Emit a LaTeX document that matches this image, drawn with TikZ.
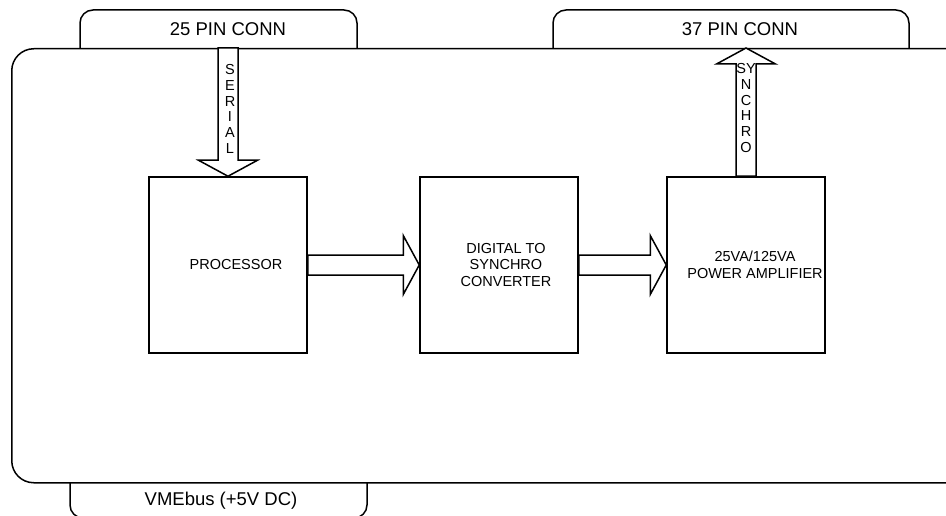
\documentclass[tikz,border=0pt]{standalone}
\usepackage{fontspec}
\setmainfont{Liberation Sans}
\usetikzlibrary{calc,positioning}

\tikzset{
	blockarrow/.style={fill=white, to path={
		($(\tikztotarget)!16pt!(\tikztostart)$) coordinate (bh)
		($(\tikztostart)!10pt!90:(\tikztotarget)$) -- ($(bh)!10pt!90:(\tikztotarget)$)
		-- ($(bh)!29.5pt!90:(\tikztotarget)$) -- (\tikztotarget)
		-- ($(bh)!29.5pt!-90:(\tikztotarget)$) -- ($(bh)!10pt!-90:(\tikztotarget)$)
		-- ($(\tikztostart)!10pt!-90:(\tikztotarget)$) -- cycle}},
}

\begin{document}
\begin{tikzpicture}[x=1pt, y=-1pt, line width=1.5pt,
		tab/.style={rounded corners=13pt},
		unit/.style={draw, minimum width=158pt, minimum height=176pt},
		conntext/.style={font=\fontsize{18.5}{20}\selectfont},
		boxtext/.style={font=\fontsize{14.5}{16.5}\selectfont, align=center},
		vtext/.style={font=\fontsize{14.5}{15.8}\selectfont, align=center, inner sep=0pt}]
				\useasboundingbox (0,0) rectangle (946,516);
				\clip (0,0) rectangle (946,516);

				% board and connectors
				\node[draw, rounded corners=22pt, minimum width=990pt, minimum height=434pt, anchor=north west] (board) at (11,48) {};
				\draw[tab] (80,48) |- (357,10) -- (357,48);
				\draw[tab] (553,48) |- (909,10) -- (909,48);
				\draw[tab] (70,482) |- (367,518) -- (367,482);
				\node[conntext] (conn25) at (228,29) {25 PIN CONN};
				\node[conntext] (conn37) at (740,29) {37 PIN CONN};
				\node[conntext] (vme) at (221,501) {VMEbus (+5V DC)};

				% function blocks
				\node[unit] (proc) at (228,265) {};
				\node[unit] (dsc) at (499,265) {};
				\node[unit] (amp) at (746,265) {};
				\node[boxtext] at ([xshift=8pt]proc.center) {PROCESSOR};
				\node[boxtext] at ([xshift=7pt]dsc.center) {DIGITAL TO\\SYNCHRO\\CONVERTER};
				\node[boxtext] at ([xshift=9pt]amp.center) {25VA/125VA\\POWER AMPLIFIER};

				% data flow
				\draw[blockarrow] (proc.north |- board.north) to (proc.north);
				\draw[blockarrow] (proc.east) to (dsc.west);
				\draw[blockarrow] (dsc.east) to (amp.west);
				\draw[blockarrow] (amp.north) to (amp.north |- board.north);
				\node[vtext] (serial) at (230,109) {S\\E\\R\\I\\A\\L};
				\node[vtext] (synchro) at (746,108) {SY\\N\\C\\H\\R\\O};
\end{tikzpicture}
\end{document}
